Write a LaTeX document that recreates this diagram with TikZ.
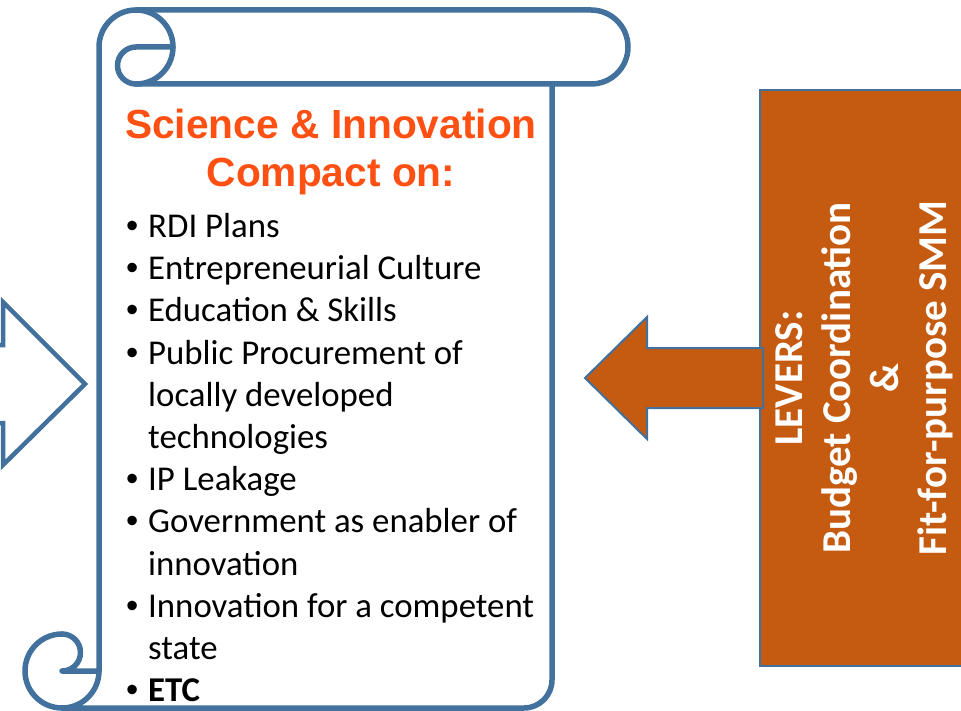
\documentclass[tikz,border=0pt]{standalone}
\usepackage{fontspec}
\setmainfont{Carlito}
\newfontfamily\titlefont{Liberation Sans}
\definecolor{scrollblue}{HTML}{41719C}
\definecolor{leverorange}{HTML}{C55A11}
\definecolor{titleorange}{HTML}{FF5014}
\newcommand{\mybul}{\makebox[22pt][l]{{\titlefont\textbullet}}}
\begin{document}
\begin{tikzpicture}[x=1pt,y=-1pt,
  scrollline/.style={draw=scrollblue,line width=5.5pt,line join=round,line cap=round},
  titletext/.style={anchor=base,inner sep=0pt,text=titleorange,font=\titlefont\bfseries\fontsize{40.7}{48}\selectfont},
  itemtext/.style={anchor=base west,inner sep=0pt,font=\fontsize{34.8}{42}\selectfont},
  levertext/.style={rotate=90,inner sep=0pt,text=white,font=\bfseries\fontsize{41}{48}\selectfont}]
\useasboundingbox (0,0) rectangle (961,711);
\clip (0,0) rectangle (961,711);
% left hollow arrow
\draw[draw=scrollblue,fill=white,line width=4.5pt,line join=miter]
  (-20,345) -- (3,345) -- (3,302) -- (85,384) -- (3,465) -- (3,423) -- (-20,423);
% scroll: top roll
\draw[scrollline] (99,671) -- (99,47) arc[start angle=180,end angle=270,radius=37]
  -- (591,10) arc[start angle=-90,end angle=90,radius=37] -- (136,84);
\draw[scrollline] (136,10) arc[start angle=-90,end angle=90,radius=37];
\draw[scrollline] (173,47) -- (136,47) arc[start angle=-90,end angle=-270,radius=18.5];
% scroll: body
\draw[scrollline] (99,671) arc[start angle=0,end angle=90,radius=37]
  -- (524,708) arc[start angle=90,end angle=0,radius=28] -- (552,84);
% scroll: bottom curl
\draw[scrollline] (62,634) arc[start angle=-90,end angle=-270,radius=37];
\draw[scrollline] (62,634) arc[start angle=-90,end angle=90,radius=18.5] -- (99,671);
% title
\node[titletext] (title1) at (331,139) {Science \& Innovation};
\node[titletext] (title2) at (331,187) {Compact on:};
% bullets
\node[itemtext] (i1) at (126,237.5) {\mybul RDI Plans};
\node[itemtext] (i2) at (126,279.7) {\mybul Entrepreneurial Culture};
\node[itemtext] (i3) at (126,321.9) {\mybul Education \& Skills};
\node[itemtext] (i4) at (126,364.1) {\mybul Public Procurement of};
\node[itemtext] (i4b) at (148,406.3) {locally developed};
\node[itemtext] (i4c) at (148,448.5) {technologies};
\node[itemtext] (i5) at (126,490.7) {\mybul IP Leakage};
\node[itemtext] (i6) at (126,532.9) {\mybul Government as enabler of};
\node[itemtext] (i6b) at (148,575.1) {innovation};
\node[itemtext] (i7) at (126,617.3) {\mybul Innovation for a competent};
\node[itemtext] (i7b) at (148,659.5) {state};
\node[itemtext] (i8) at (126,701.7) {\mybul\textbf{ETC}};
% levers box
\draw[draw=scrollblue,fill=leverorange,line width=2.5pt] (760,90) rectangle (975,666);
\node[levertext] (levers) at (865,378) {\begin{tabular}{@{}c@{}}LEVERS:\\Budget Coordination\\\&\\Fit-for-purpose SMM\end{tabular}};
% orange arrow
\draw[draw=scrollblue,fill=leverorange,line width=2pt,line join=miter]
  (763,348) -- (647,348) -- (647,317) -- (585,378) -- (647,439) -- (647,408) -- (763,408) -- cycle;
\end{tikzpicture}
\end{document}
